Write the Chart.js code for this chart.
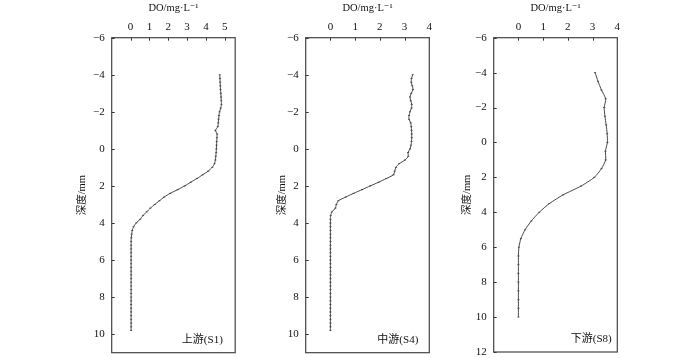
<!DOCTYPE html>
<html>
<head>
<meta charset="utf-8">
<script src="https://cdn.jsdelivr.net/npm/chart.js@4.4.1/dist/chart.umd.min.js"></script>
<style>
  body { margin: 0; background: #fff; }
  #wrap { position: relative; width: 700px; height: 358px; }
  canvas { position: absolute; top: 0; }
</style>
</head>
<body>
<div id="wrap">
  <canvas id="c1" width="180" height="358" style="left:60px"></canvas>
  <canvas id="c2" width="180" height="358" style="left:260px"></canvas>
  <canvas id="c3" width="180" height="358" style="left:445px"></canvas>
</div>
<script>
// depth (mm) and DO (mg/L)
const depthS1 = [-4, -3.8, -3.6, -3.4, -3.2, -3, -2.8, -2.6, -2.4, -2.2, -2, -1.8, -1.6, -1.4, -1.2, -1, -0.8, -0.6, -0.4, -0.2,
  0, 0.2, 0.4, 0.6, 0.8, 1, 1.2, 1.4, 1.6, 1.8, 2, 2.2, 2.4, 2.6, 2.8, 3, 3.2, 3.4, 3.6, 3.8,
  4, 4.2, 4.4, 4.6, 4.8, 5, 5.2, 5.4, 5.6, 5.8, 6, 6.2, 6.4, 6.6, 6.8, 7, 7.2, 7.4, 7.6, 7.8,
  8, 8.2, 8.4, 8.6, 8.8, 9, 9.2, 9.4, 9.6, 9.8];
const doS1 = [4.73, 4.74, 4.75, 4.76, 4.77, 4.79, 4.80, 4.81, 4.82, 4.78, 4.72, 4.69, 4.67, 4.65, 4.63, 4.50, 4.59, 4.58, 4.57, 4.56,
  4.55, 4.54, 4.52, 4.50, 4.45, 4.33, 4.12, 3.82, 3.52, 3.19, 2.87, 2.50, 2.10, 1.78, 1.53, 1.28, 1.05, 0.85, 0.66, 0.51,
  0.30, 0.16, 0.09, 0.06, 0.04, 0.03, 0.03, 0.03, 0.03, 0.03, 0.03, 0.03, 0.03, 0.03, 0.03, 0.03, 0.03, 0.03, 0.03, 0.03,
  0.03, 0.03, 0.03, 0.03, 0.03, 0.03, 0.03, 0.03, 0.03, 0.03];

const depthS4 = depthS1;
const doS4 = [3.33, 3.28, 3.27, 3.31, 3.34, 3.27, 3.22, 3.25, 3.29, 3.28, 3.22, 3.18, 3.18, 3.25, 3.27, 3.28, 3.29, 3.29, 3.28, 3.26,
  3.22, 3.14, 3.15, 3.02, 2.78, 2.65, 2.60, 2.55, 2.26, 1.95, 1.61, 1.28, 0.94, 0.62, 0.32, 0.24, 0.20, 0.06, 0.01, 0,
  0, 0, 0, 0, 0, 0, 0, 0, 0, 0, 0, 0, 0, 0, 0, 0, 0, 0, 0, 0,
  0, 0, 0, 0, 0, 0, 0, 0, 0, 0];

const depthS8 = [-4, -3.5, -3, -2.5, -2, -1.5, -1, -0.5, 0, 0.5, 1, 1.5, 2, 2.5, 3, 3.5, 4, 4.5, 5, 5.5,
  6, 6.5, 7, 7.5, 8, 8.5, 9, 9.5, 10];
const doS8 = [3.10, 3.22, 3.36, 3.53, 3.47, 3.50, 3.55, 3.59, 3.60, 3.52, 3.53, 3.36, 3.07, 2.53, 1.81, 1.25, 0.84, 0.52, 0.27, 0.10,
  0.02, 0, 0, 0, 0, 0, 0, 0, 0];

const xTicksS1 = [0, 1, 2, 3, 4, 5];
const xTicksS4 = [0, 1, 2, 3, 4];
const yTicksA = [-6, -4, -2, 0, 2, 4, 6, 8, 10];
const yTicksB = [-6, -4, -2, 0, 2, 4, 6, 8, 10, 12];

const xTitle = 'DO/mg·L⁻¹';
const yTitle = '深度/mm';
const siteNames = ['上游(S1)', '中游(S4)', '下游(S8)'];

const FONT = "'Liberation Serif', 'DejaVu Serif', 'Noto Sans CJK SC', serif";

const framePlugin = {
  id: 'frame',
  afterDraw(chart) {
    const { ctx, chartArea: a, scales } = chart;
    const o = chart.options.plugins.frame;
    ctx.save();
    ctx.strokeStyle = '#333';
    ctx.lineWidth = 1;
    ctx.beginPath();
    scales.x.ticks.forEach(t => {
      const px = Math.round(scales.x.getPixelForValue(t.value)) + 0.5;
      ctx.moveTo(px, a.top); ctx.lineTo(px, a.top + 3);
    });
    scales.y.ticks.forEach(t => {
      const py = Math.round(scales.y.getPixelForValue(t.value)) + 0.5;
      ctx.moveTo(a.left, py); ctx.lineTo(a.left + 3, py);
    });
    ctx.stroke();
    ctx.strokeStyle = '#444';
    ctx.lineWidth = 1.2;
    ctx.strokeRect(a.left, a.top, a.right - a.left, a.bottom - a.top);
    ctx.fillStyle = '#111';
    ctx.font = "11px " + FONT;
    ctx.textAlign = 'right';
    ctx.textBaseline = 'middle';
    ctx.fillText(o.label, a.right - o.inset, a.bottom - 13);
    ctx.restore();
  }
};

const fmt = v => (v < 0 ? '−' + (-v) : String(v));

function makePanel(id, depth, dov, xMax, yMax, xTicks, yTicks, label, axisW, padR, padB, inset) {
  new Chart(document.getElementById(id), {
    type: 'scatter',
    data: {
      datasets: [{
        data: depth.map((d, i) => ({ x: dov[i], y: d })),
        showLine: true,
        borderColor: '#333',
        borderWidth: 0.9,
        pointStyle: 'line',
        pointRadius: 1,
        pointBorderWidth: 0.8,
        pointBorderColor: '#333',
        tension: 0.2
      }]
    },
    options: {
      responsive: false,
      animation: false,
      layout: { padding: { left: 0, right: padR, top: 0, bottom: padB } },
      plugins: { legend: { display: false }, tooltip: { enabled: false }, frame: { label, inset } },
      scales: {
        x: {
          type: 'linear', position: 'top', min: -1, max: xMax,
          afterBuildTicks: s => { s.ticks = xTicks.map(v => ({ value: v })); },
          afterFit: s => { s.height = 37.7; s.paddingLeft = 0; s.paddingRight = 0; },
          grid: { display: false, drawTicks: false }, border: { display: false },
          ticks: { color: '#111', padding: 4, font: { family: FONT, size: 11 }, callback: fmt },
          title: { display: true, text: xTitle, color: '#111', padding: { top: 2, bottom: 0 }, font: { family: FONT, size: 10.5 } }
        },
        y: {
          type: 'linear', reverse: true, min: -6, max: yMax,
          afterBuildTicks: s => { s.ticks = yTicks.map(v => ({ value: v })); },
          afterFit: s => { s.width = axisW; s.paddingTop = 0; s.paddingBottom = 0; },
          grid: { display: false, drawTicks: false }, border: { display: false },
          ticks: { color: '#111', padding: 7, font: { family: FONT, size: 11 }, callback: fmt },
          title: { display: true, text: yTitle, color: '#111', padding: { top: 15.7, bottom: 0 }, font: { family: FONT, size: 10.5 } }
        }
      }
    },
    plugins: [framePlugin]
  });
}

makePanel('c1', depthS1, doS1, 5.55, 11, xTicksS1, yTicksA, siteNames[0], 51.7, 4.3, 5.3, 12.4);
makePanel('c2', depthS4, doS4, 4, 11, xTicksS4, yTicksA, siteNames[1], 45.7, 10.7, 5.3, 11);
makePanel('c3', depthS8, doS8, 4, 12, xTicksS4, yTicksB, siteNames[2], 48.7, 7.7, 6, 5.6);
</script>
</body>
</html>
